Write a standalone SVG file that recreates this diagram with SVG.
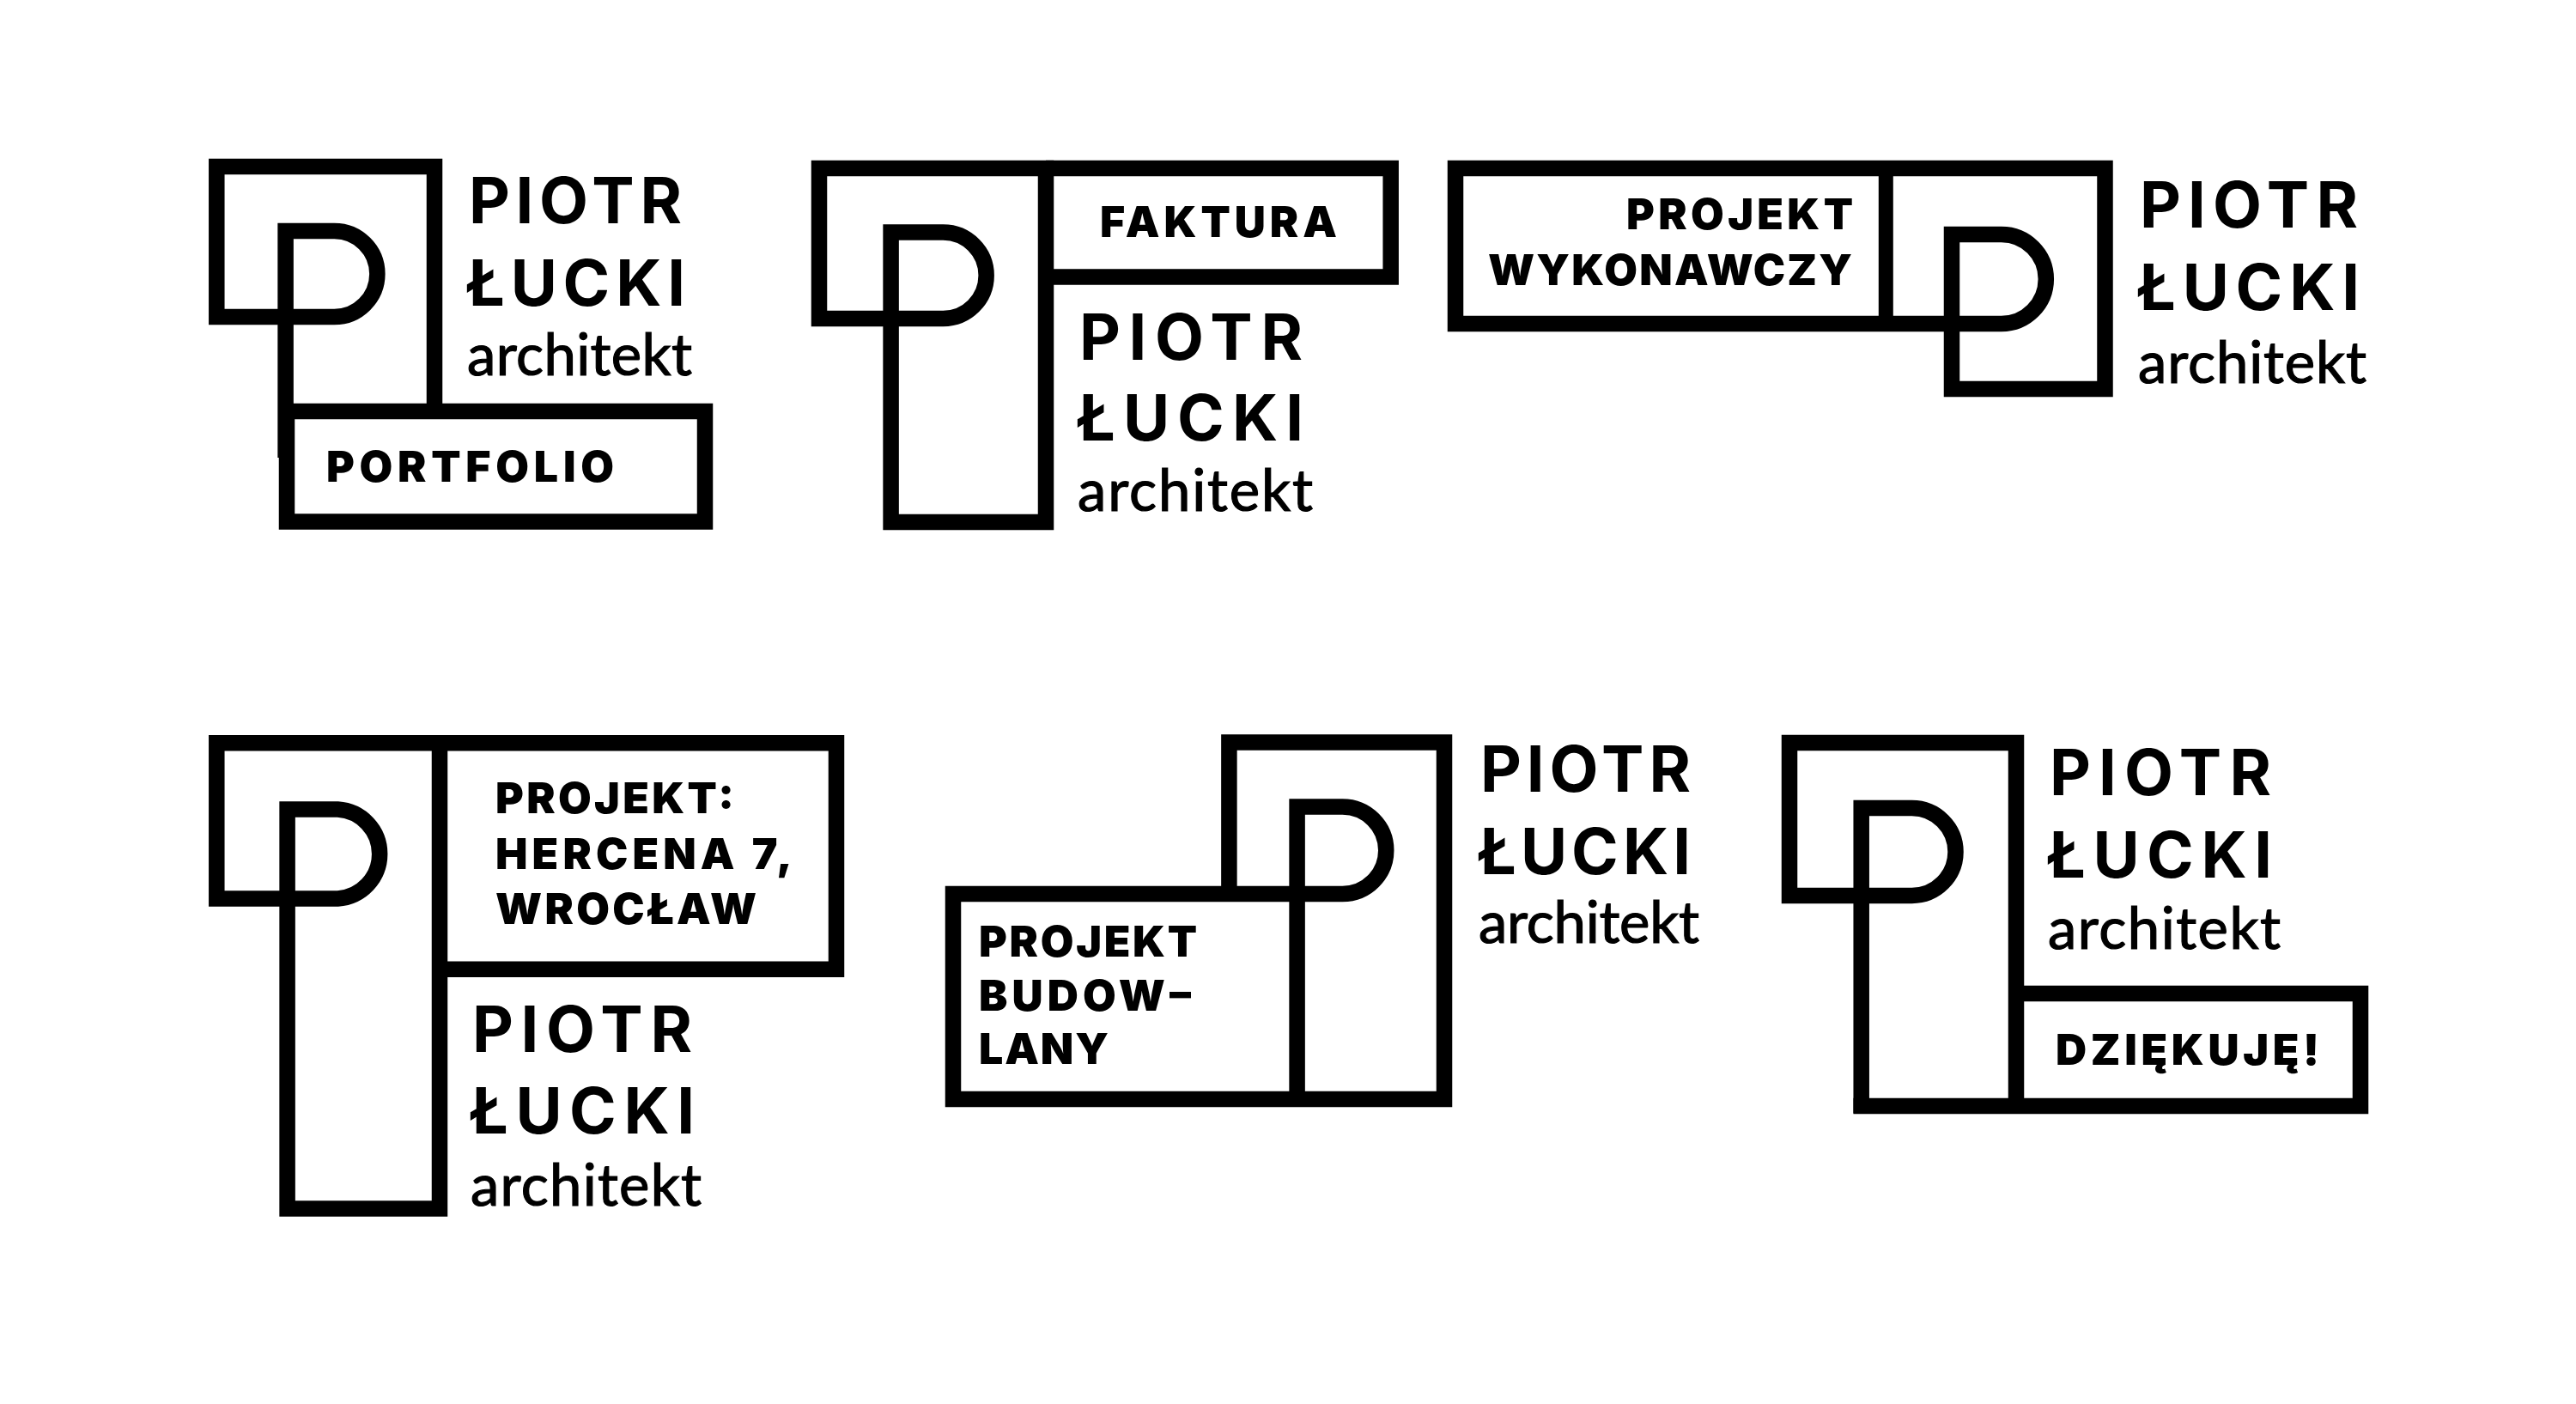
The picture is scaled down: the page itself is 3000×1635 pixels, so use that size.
<svg xmlns="http://www.w3.org/2000/svg" width="3000" height="1635" viewBox="0 0 3000 1635">
<style>
.m{fill:none;stroke:#000;stroke-width:18.5;stroke-linejoin:miter;stroke-linecap:butt}
text{fill:#000;font-family:"Inter","Lato","Liberation Sans",sans-serif}
.n{font-size:74px;font-weight:700}
.a{font-family:"Lato","Liberation Sans",sans-serif;font-size:67px;font-weight:400;stroke:#000;stroke-width:1.2px}
.l{font-size:50px;font-weight:900}
</style>
<rect width="3000" height="1635" fill="#fff"/>
<g id="logo-portfolio">
<path class="m" d="M332.6 533V269H389.4A50 50 0 0 1 389.4 369H252.3V194H506V479"/>
<rect class="m" x="334" y="479" width="487" height="128.5"/>
<text class="n" x="546" y="260" textLength="248">PIOTR</text>
<text class="n" x="543" y="356" textLength="255">ŁUCKI</text>
<text class="a" x="544" y="437" textLength="262">architekt</text>
<text class="l" x="380" y="561" textLength="335">PORTFOLIO</text>
</g>
<g id="logo-faktura">
<path class="m" d="M1037.6 617V270.5H1098.4A50.2 50.2 0 0 1 1098.4 371H954V196H1218V608H1028.4"/>
<path class="m" d="M1218 196H1619.7V322.5H1218"/>
<text class="n" x="1257" y="419" textLength="260">PIOTR</text>
<text class="n" x="1254" y="513" textLength="264">ŁUCKI</text>
<text class="a" x="1255" y="595" textLength="274">architekt</text>
<text class="l" x="1281" y="276" textLength="276">FAKTURA</text>
</g>
<g id="logo-projekt-wykonawczy">
<path class="m" d="M2273 462V273H2330.8A52 52 0 0 1 2330.8 377H1695V196H2451.5V453H2263.8"/>
<path class="m" style="stroke-width:17" d="M2196.3 187V386"/>
<text class="n" x="2492" y="265" textLength="254">PIOTR</text>
<text class="n" x="2489" y="361" textLength="259">ŁUCKI</text>
<text class="a" x="2490" y="446" textLength="266">architekt</text>
<text class="l" x="1894" y="267" textLength="264">PROJEKT</text>
<text class="l" x="1733" y="332" textLength="424">WYKONAWCZY</text>
</g>
<g id="logo-hercena">
<path class="m" d="M334.6 1416.8V942.6H393.4A52 52 0 0 1 393.4 1046.4H252.3V865.2H512V1407.6H325.4"/>
<path class="m" d="M512 865.2H974V1128.7H512"/>
<text class="n" x="550" y="1225" textLength="256">PIOTR</text>
<text class="n" x="547" y="1320" textLength="262">ŁUCKI</text>
<text class="a" x="548" y="1404" textLength="269">architekt</text>
<text class="l" x="577" y="947" textLength="278">PROJEKT:</text>
<text class="l" x="577" y="1011.5" textLength="346">HERCENA 7,</text>
<text class="l" x="577" y="1076" textLength="304">WROCŁAW</text>
</g>
<g id="logo-budowlany">
<path class="m" d="M1510.6 1289V939.5H1563.5A50.7 50.7 0 0 1 1563.5 1041H1110V1280H1682V864.5H1431.4V1041"/>
<text class="n" x="1724" y="922" textLength="245">PIOTR</text>
<text class="n" x="1721" y="1018" textLength="248">ŁUCKI</text>
<text class="a" x="1722" y="1098" textLength="257">architekt</text>
<text class="l" x="1140" y="1114" textLength="254">PROJEKT</text>
<text class="l" x="1140" y="1177" textLength="247">BUDOW–</text>
<text class="l" x="1140" y="1239" textLength="151">LANY</text>
</g>
<g id="logo-dziekuje">
<path class="m" d="M2167.7 1296.5V941H2226.5A51 51 0 0 1 2226.5 1043H2084V865H2348V1288"/>
<path class="m" d="M2158.5 1288H2749V1157H2348"/>
<text class="n" x="2387" y="926" textLength="258">PIOTR</text>
<text class="n" x="2384" y="1022" textLength="262">ŁUCKI</text>
<text class="a" x="2385" y="1105" textLength="271">architekt</text>
<text class="l" x="2394" y="1240" textLength="307">DZIĘKUJĘ!</text>
</g>
</svg>
